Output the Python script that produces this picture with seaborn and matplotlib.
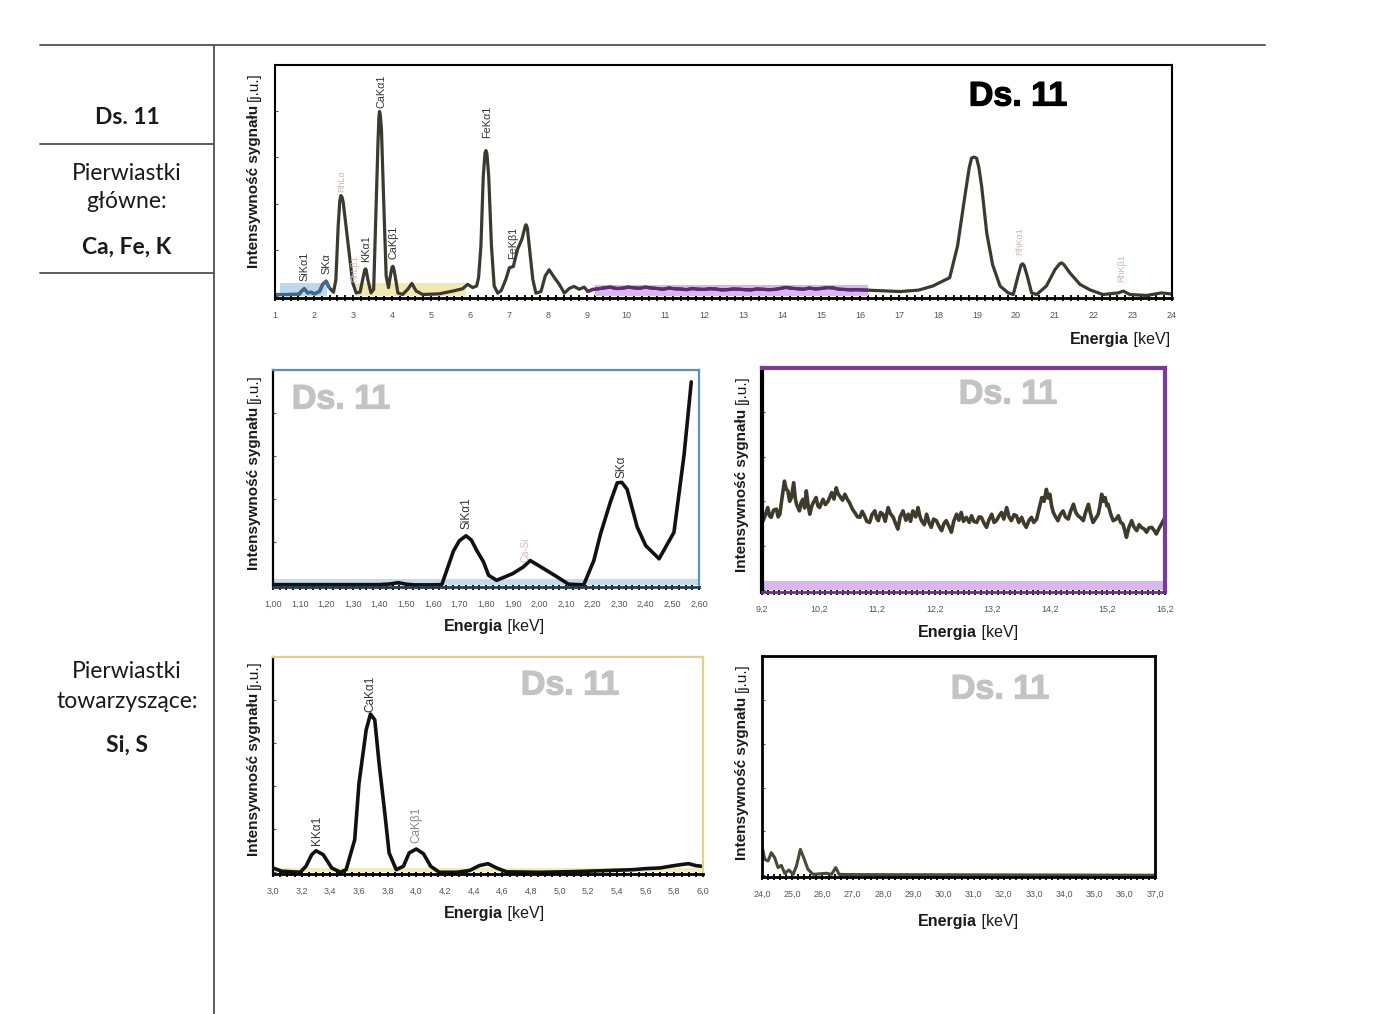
import numpy as np
import seaborn as sns
import matplotlib.pyplot as plt
import matplotlib.patheffects as pe
from matplotlib.lines import Line2D
from matplotlib.ticker import MultipleLocator

sns.set_theme(style="white")
plt.rcParams['font.family'] = ['Liberation Sans', 'DejaVu Sans']

# ---- data (intensity in % of panel height) ----
main_spectrum = [
    (1.0, 0.7), (1.3, 0.7), (1.62, 0.8), (1.67, 2.0), (1.75, 3.2), (1.84, 1.4), (1.92, 1.7),
    (2.01, 1.0), (2.14, 2.0), (2.22, 5.0), (2.31, 6.5), (2.39, 3.7), (2.5, 1.7), (2.56, 7.0),
    (2.62, 30.3), (2.66, 41.0), (2.69, 43.5), (2.72, 42.8), (2.75, 40.5), (2.82, 30.3),
    (2.91, 17.4), (2.99, 5.9), (3.08, 1.4), (3.18, 1.7), (3.25, 7.2), (3.30, 11.3),
    (3.32, 11.8), (3.34, 11.2), (3.38, 7.2), (3.46, 1.4), (3.53, 2.9), (3.59, 37.5),
    (3.64, 66.2), (3.665, 77.5), (3.68, 79.9), (3.70, 78.5), (3.73, 72.0), (3.78, 44.7),
    (3.85, 8.8), (3.91, 3.7), (3.96, 8.8), (4.00, 12.5), (4.02, 12.9), (4.04, 12.3),
    (4.08, 8.8), (4.15, 1.4), (4.27, 0.7), (4.4, 2.9), (4.51, 5.5), (4.62, 2.2), (4.79, 0.7),
    (5.21, 1.0), (5.56, 2.2), (5.81, 3.2), (5.94, 5.1), (6.07, 3.7), (6.17, 4.4), (6.22, 8.0),
    (6.28, 21.7), (6.34, 51.8), (6.385, 62.0), (6.41, 63.0), (6.435, 61.5), (6.48, 51.8),
    (6.55, 21.7), (6.62, 4.4), (6.71, 1.3), (6.8, 2.4), (6.92, 7.3), (7.01, 12.3),
    (7.11, 12.8), (7.22, 20.3), (7.33, 24.6), (7.42, 30.5), (7.44, 30.9), (7.47, 29.5),
    (7.52, 21.7), (7.61, 7.3), (7.69, 1.3), (7.82, 2.0), (7.93, 8.8), (8.03, 11.4),
    (8.16, 8.1), (8.29, 5.1), (8.42, 1.3), (8.55, 3.4), (8.67, 4.2), (8.8, 3.0), (8.93, 3.9),
    (9.02, 2.0), (9.15, 2.9), (9.3, 3.2), (9.45, 3.6), (9.6, 3.9), (9.75, 3.3), (9.9, 3.4),
    (10.05, 3.9), (10.2, 3.6), (10.35, 3.4), (10.5, 3.9), (10.65, 3.5), (10.8, 3.3),
    (10.95, 3.0), (11.1, 3.5), (11.25, 3.2), (11.4, 3.1), (11.55, 2.8), (11.7, 3.3),
    (11.85, 3.0), (12.0, 2.9), (12.15, 3.2), (12.3, 3.1), (12.45, 2.7), (12.6, 2.8),
    (12.75, 3.1), (12.9, 3.0), (13.05, 2.8), (13.2, 2.7), (13.35, 3.1), (13.5, 3.0),
    (13.65, 2.8), (13.8, 2.9), (13.95, 3.3), (14.1, 3.8), (14.25, 3.4), (14.4, 3.2),
    (14.55, 3.0), (14.7, 3.5), (14.85, 3.1), (15.0, 3.3), (15.15, 3.7), (15.3, 3.6),
    (15.45, 3.0), (15.6, 2.9), (15.75, 2.7), (15.9, 2.8), (16.05, 2.7), (16.2, 2.6),
    (16.6, 2.3), (17.03, 2.0), (17.5, 2.6), (17.87, 4.4), (18.3, 8.0), (18.5, 21.6),
    (18.7, 44.5), (18.8, 55.5), (18.86, 59.7), (18.92, 60.2), (18.99, 59.7), (19.05, 55.5),
    (19.12, 47.4), (19.25, 27.3), (19.4, 13.6), (19.59, 4.4), (19.8, 1.4), (19.93, 0.7),
    (20.05, 8.6), (20.13, 13.5), (20.17, 14.0), (20.21, 13.2), (20.29, 8.6), (20.4, 1.4),
    (20.53, 0.7), (20.78, 4.4), (21.0, 11.5), (21.12, 14.0), (21.17, 14.4), (21.23, 13.6),
    (21.38, 10.1), (21.64, 5.1), (21.9, 2.7), (22.23, 0.7), (22.62, 1.4), (22.75, 2.2),
    (22.92, 0.7), (23.35, 0.3), (23.73, 1.4), (23.95, 1.0), (24.0, 1.0),
]
main_energy, main_intensity = map(np.array, zip(*main_spectrum))

main_peaks = [("SiKα1", 1.75, 6.5), ("SKα", 2.33, 9.5), ("KKα1", 3.33, 14.7),
              ("CaKα1", 3.72, 81.5), ("CaKβ1", 4.05, 16.0), ("FeKα1", 6.43, 68.5),
              ("FeKβ1", 7.1, 16.0)]
main_faint = [("RhLα", 2.72, 45.0), ("RhLβ1", 3.05, 6.0), ("RhKα1", 20.1, 18.0),
              ("RhKβ1", 22.7, 6.0)]

si_s_spectrum = [
    (1.00, 0.3), (1.20, 0.3), (1.40, 0.3), (1.44, 0.6), (1.47, 1.2), (1.50, 0.5), (1.53, 0.2),
    (1.60, 0.2), (1.634, 0.3), (1.678, 16.0), (1.70, 20.7), (1.725, 23.0), (1.745, 21.0),
    (1.766, 16.0), (1.79, 11.0), (1.81, 4.6), (1.84, 2.3), (1.90, 5.4), (1.94, 8.5),
    (1.966, 11.5), (2.017, 7.7), (2.067, 3.9), (2.11, 0.5), (2.167, 0.2), (2.205, 11.5),
    (2.23, 23.8), (2.268, 39.0), (2.293, 47.6), (2.31, 47.8), (2.33, 44.6), (2.368, 27.0),
    (2.40, 18.4), (2.45, 12.3), (2.506, 24.6), (2.544, 60.7), (2.571, 94.5),
]
si_s_energy, si_s_intensity = map(np.array, zip(*si_s_spectrum))
si_s_peaks = [("SiKα1", 1.725, 26.0), ("SKα", 2.31, 50.0)]

mid_spectrum = [
    (9.22, 31.3), (9.26, 34.0), (9.30, 37.2), (9.33, 33.5), (9.36, 32.8), (9.40, 36.0),
    (9.45, 36.5), (9.48, 33.0), (9.51, 34.2), (9.55, 42.0), (9.59, 49.1), (9.62, 45.5),
    (9.65, 44.7), (9.68, 40.0), (9.71, 41.7), (9.75, 48.4), (9.78, 41.0), (9.80, 38.7),
    (9.85, 35.7), (9.88, 39.5), (9.91, 40.9), (9.94, 37.0), (9.97, 44.7), (10.00, 38.5),
    (10.03, 34.2), (10.06, 37.5), (10.09, 39.4), (10.14, 41.7), (10.17, 38.0), (10.20, 37.2),
    (10.26, 40.9), (10.30, 38.5), (10.35, 40.2), (10.41, 43.9), (10.45, 41.0), (10.49, 46.1),
    (10.52, 43.5), (10.55, 42.4), (10.60, 40.5), (10.64, 43.2), (10.68, 41.0), (10.72, 39.4),
    (10.77, 36.5), (10.81, 35.0), (10.86, 33.0), (10.90, 32.8), (10.94, 35.5), (10.98, 33.5),
    (11.02, 31.0), (11.07, 30.5), (11.11, 34.0), (11.16, 35.7), (11.19, 32.5), (11.22, 31.3),
    (11.26, 35.0), (11.30, 34.2), (11.34, 31.0), (11.39, 37.2), (11.43, 34.5), (11.48, 32.8),
    (11.52, 30.0), (11.56, 27.5), (11.60, 33.0), (11.65, 35.7), (11.70, 31.5), (11.74, 34.2),
    (11.78, 31.0), (11.82, 35.7), (11.87, 33.0), (11.91, 37.2), (11.94, 33.5), (11.97, 31.3),
    (12.02, 29.5), (12.06, 34.2), (12.10, 30.5), (12.14, 28.3), (12.18, 32.0), (12.23, 31.3),
    (12.27, 29.0), (12.32, 26.8), (12.36, 30.0), (12.40, 31.3), (12.45, 28.5), (12.49, 26.1),
    (12.53, 31.0), (12.58, 34.2), (12.62, 31.5), (12.66, 35.0), (12.70, 31.0), (12.75, 32.8),
    (12.80, 30.5), (12.84, 33.5), (12.88, 31.0), (12.93, 30.5), (12.97, 33.0), (13.01, 32.8),
    (13.06, 30.0), (13.10, 28.3), (13.14, 31.5), (13.19, 34.2), (13.23, 30.5), (13.27, 31.3),
    (13.32, 33.5), (13.36, 35.0), (13.40, 32.0), (13.45, 37.2), (13.49, 33.0), (13.53, 31.3),
    (13.58, 34.0), (13.62, 33.5), (13.66, 30.5), (13.71, 32.8), (13.75, 30.0), (13.79, 28.3),
    (13.84, 31.5), (13.88, 32.8), (13.92, 30.5), (13.97, 32.0), (14.02, 37.5), (14.06, 41.7),
    (14.10, 40.0), (14.14, 45.4), (14.17, 41.5), (14.20, 43.2), (14.23, 38.0), (14.26, 35.0),
    (14.30, 33.0), (14.34, 31.3), (14.38, 34.0), (14.43, 35.7), (14.47, 33.0), (14.52, 32.0),
    (14.56, 35.5), (14.61, 38.7), (14.65, 35.0), (14.69, 33.5), (14.74, 32.5), (14.78, 31.3),
    (14.82, 35.0), (14.87, 38.7), (14.91, 34.0), (14.95, 30.5), (15.00, 32.5), (15.04, 34.2),
    (15.07, 38.0), (15.10, 43.2), (15.13, 40.0), (15.16, 41.7), (15.19, 38.0), (15.21, 38.7),
    (15.26, 34.0), (15.30, 31.3), (15.35, 32.0), (15.39, 33.5), (15.43, 30.5), (15.47, 29.8),
    (15.50, 27.0), (15.53, 23.8), (15.57, 28.0), (15.62, 31.3), (15.66, 28.5), (15.71, 26.8),
    (15.75, 29.5), (15.79, 28.3), (15.84, 27.5), (15.88, 26.1), (15.92, 28.0), (15.97, 28.3),
    (16.01, 27.0), (16.05, 25.3), (16.10, 28.0), (16.14, 29.8), (16.20, 32.8),
]
mid_energy, mid_intensity = map(np.array, zip(*mid_spectrum))

k_ca_spectrum = [
    (3.0, 2.0), (3.06, 0.5), (3.19, 0.0), (3.23, 2.8), (3.27, 8.2), (3.30, 10.0), (3.35, 8.2),
    (3.41, 2.0), (3.47, 0.0), (3.51, 1.2), (3.57, 15.1), (3.60, 41.4), (3.65, 66.1),
    (3.68, 73.5), (3.71, 70.8), (3.74, 50.7), (3.78, 27.5), (3.81, 9.0), (3.86, 1.2),
    (3.91, 2.8), (3.95, 9.0), (4.00, 10.8), (4.05, 8.6), (4.10, 2.8), (4.16, 0.0), (4.28, 0.0),
    (4.37, 0.8), (4.44, 3.1), (4.50, 4.0), (4.56, 2.0), (4.63, 0.2), (4.86, 0.0), (5.09, 0.3),
    (5.33, 0.8), (5.51, 1.2), (5.60, 1.7), (5.70, 2.0), (5.77, 2.8), (5.84, 3.5), (5.90, 4.0),
    (5.95, 3.1), (5.99, 2.8),
]
k_ca_energy, k_ca_intensity = map(np.array, zip(*k_ca_spectrum))
k_ca_peaks = [("KKα1", 3.31, 12.8, '#333333'), ("CaKα1", 3.68, 74.5, '#333333'),
              ("CaKβ1", 4.0, 13.8, '#8a8a8a')]

high_spectrum = [
    (24.0, 13.3), (24.09, 7.3), (24.2, 6.5), (24.31, 10.3), (24.42, 8.0), (24.53, 3.5),
    (24.64, 4.5), (24.75, 0.9), (24.89, 2.4), (25.03, 0.4), (25.14, 4.2), (25.27, 11.8),
    (25.38, 8.0), (25.52, 2.7), (25.69, 0.4), (26.13, 0.9), (26.3, 0.4), (26.44, 3.5),
    (26.55, 0.4), (26.9, 0.3), (37.0, 0.0),
]
high_energy, high_intensity = map(np.array, zip(*high_spectrum))

main_ticks = list(range(1, 25))
si_s_ticks = [1.0 + 0.1 * i for i in range(17)]
mid_ticks = [9.2 + i for i in range(8)]
k_ca_ticks = [3.0 + 0.2 * i for i in range(16)]
high_ticks = [24.0 + i for i in range(14)]

# ---- figure ----
W, H = 1400, 1014
fig = plt.figure(figsize=(14, 10.14), dpi=100)


def fx(px):
    return px / W


def fy(py):
    return 1 - py / H


def make_axes(left, top, right, bottom):
    return fig.add_axes([fx(left), fy(bottom), fx(right) - fx(left), fy(top) - fy(bottom)])


def style_axes(ax, xlim, ticks, labels, minor, frame, lw, bottom_color='black'):
    ax.set_xlim(*xlim)
    ax.set_ylim(-0.8, 100)
    ax.set_xticks(ticks)
    ax.set_xticklabels(labels)
    ax.xaxis.set_minor_locator(MultipleLocator(minor))
    ax.set_yticks(range(0, 101, 20))
    ax.set_yticklabels([])
    ax.tick_params(axis='x', which='both', bottom=True, direction='inout', length=4,
                   width=1.3, color='black', labelsize=6.5, labelcolor='#555555', pad=7)
    ax.tick_params(axis='y', left=True, direction='in', length=2.5, width=0.8, color='#555555')
    for s in ax.spines.values():
        s.set_color(frame)
        s.set_linewidth(lw)
    ax.spines['bottom'].set_color(bottom_color)
    ax.spines['bottom'].set_linewidth(2)
    ax.spines['left'].set_color('black')
    ax.set_xlabel('')
    ax.set_ylabel('')


def ylabel(x, y):
    kw = dict(rotation=90, rotation_mode='anchor', va='baseline', fontsize=11, color='#1a1a1a')
    fig.text(fx(x), fy(y), "Intensywność sygnału ", ha='right', weight='bold', **kw)
    fig.text(fx(x), fy(y), "[j.u.]", ha='left', **kw)


def xlabel(x, y):
    kw = dict(va='baseline', fontsize=11.5, color='#1a1a1a')
    fig.text(fx(x), fy(y), "Energia", ha='right', weight='bold', **kw)
    fig.text(fx(x), fy(y), " [keV]", ha='left', **kw)


def ds_label(x, y, color):
    fig.text(fx(x), fy(y), "Ds. 11", ha='center', va='center', fontsize=24.5,
             weight='bold', color=color,
             path_effects=[pe.withStroke(linewidth=0.9, foreground=color)])


# main spectrum
ax = make_axes(275, 65, 1172, 298)
ax.fill_between([1.13, 2.33], 0, 5.6, color='#bcd8ee', lw=0)
ax.fill_between([3.05, 5.9], 0, 5.6, color='#f1e9ae', lw=0)
ax.fill_between([9.2, 16.2], 0, 5.0, color='#dcb4f2', lw=0)
sns.lineplot(x=main_energy, y=main_intensity, ax=ax, color='#3a3a30', linewidth=2.3,
             errorbar=None)
blue = main_energy <= 2.45
purple = (main_energy >= 9.02) & (main_energy <= 16.2)
ax.plot(main_energy[blue], main_intensity[blue], color='#3f6a8a', lw=2.3)
ax.plot(main_energy[purple], main_intensity[purple], color='#5e2c74', lw=2.3)
for name, e, v in main_peaks:
    ax.text(e, v, name, rotation=90, ha='center', va='bottom', fontsize=7.8, color='#333333')
for name, e, v in main_faint:
    ax.text(e, v, name, rotation=90, ha='center', va='bottom', fontsize=6.5, color='#d4b8b0')
style_axes(ax, (1, 24), main_ticks, [str(t) for t in main_ticks], 0.2, 'black', 1.5)
ds_label(1018, 97, 'black')
ylabel(258, 101)
xlabel(1129, 344)

# 1.00 - 2.60 keV
ax = make_axes(273, 370, 699, 587)
ax.fill_between([1.0, 2.6], 0, 3.0, color='#c5dcec', lw=0)
sns.lineplot(x=si_s_energy, y=si_s_intensity, ax=ax, color='#111111', linewidth=2.6,
             errorbar=None)
for name, e, v in si_s_peaks:
    ax.text(e, v, name, rotation=90, ha='center', va='bottom', fontsize=8.5, color='#333333')
ax.text(1.95, 11, "Ca-Si", rotation=90, ha='center', va='bottom', fontsize=7, color='#d4b8b0')
style_axes(ax, (1.0, 2.6), si_s_ticks, [f"{t:.2f}".replace('.', ',') for t in si_s_ticks],
           0.025, '#5b93b8', 1.6, bottom_color='#2a3a44')
ds_label(341, 400, '#c3c3c3')
ylabel(258, 403)
xlabel(503, 631)

# 9.2 - 16.2 keV
ax = make_axes(762, 368, 1165, 592)
ax.fill_between([9.2, 16.2], 0, 4.0, color='#dcb6f2', lw=0)
sns.lineplot(x=mid_energy, y=mid_intensity, ax=ax, color='#3e3b2c', linewidth=2.6,
             errorbar=None)
style_axes(ax, (9.2, 16.2), mid_ticks, [f"{t:.1f}".replace('.', ',') for t in mid_ticks],
           0.1, '#7a3a9a', 3, bottom_color='#6a2f88')
ds_label(1008, 395, '#c3c3c3')
ylabel(746, 404)
xlabel(977, 637)

# 3.0 - 6.0 keV
ax = make_axes(273, 657, 703, 874)
ax.fill_between([3.0, 6.0], 0, 2.0, color='#f3ecb8', lw=0)
sns.lineplot(x=k_ca_energy, y=k_ca_intensity, ax=ax, color='#111111', linewidth=2.6,
             errorbar=None)
for name, e, v, c in k_ca_peaks:
    ax.text(e, v, name, rotation=90, ha='center', va='bottom', fontsize=8.5, color=c)
style_axes(ax, (3.0, 6.0), k_ca_ticks, [f"{t:.1f}".replace('.', ',') for t in k_ca_ticks],
           0.05, '#dcd38e', 1.6)
ds_label(570, 686, '#c3c3c3')
ylabel(258, 689)
xlabel(503, 918)

# 24 - 37 keV
ax = make_axes(762, 656, 1155, 877)
sns.lineplot(x=high_energy, y=high_intensity, ax=ax, color='#4a4838', linewidth=2.2,
             errorbar=None)
style_axes(ax, (24, 37), high_ticks, [f"{t:.1f}".replace('.', ',') for t in high_ticks],
           0.2, 'black', 2)
ds_label(1000, 690, '#c3c3c3')
ylabel(746, 692)
xlabel(977, 926)

# ---- left table ----
line_kw = dict(color='#505050', lw=1.3, transform=fig.transFigure)
fig.add_artist(Line2D([fx(40), fx(1265)], [fy(45), fy(45)], **line_kw))
fig.add_artist(Line2D([fx(214), fx(214)], [fy(45), fy(1014)], **line_kw))
fig.add_artist(Line2D([fx(40), fx(214)], [fy(144), fy(144)], **line_kw))
fig.add_artist(Line2D([fx(40), fx(214)], [fy(273), fy(273)], **line_kw))

table_text = [("Ds. 11", 117, 'bold'), ("Pierwiastki", 173, 'normal'),
              ("główne:", 201, 'normal'), ("Ca, Fe, K", 247, 'bold'),
              ("Pierwiastki", 672, 'normal'), ("towarzyszące:", 702, 'normal'),
              ("Si, S", 745, 'bold')]
for txt, py, wt in table_text:
    fig.text(fx(127), fy(py), txt, ha='center', va='center', fontsize=16.5, weight=wt,
             family=['Lato', 'DejaVu Sans'], color='#1a1a1a')

plt.savefig('out.png', dpi=100)
